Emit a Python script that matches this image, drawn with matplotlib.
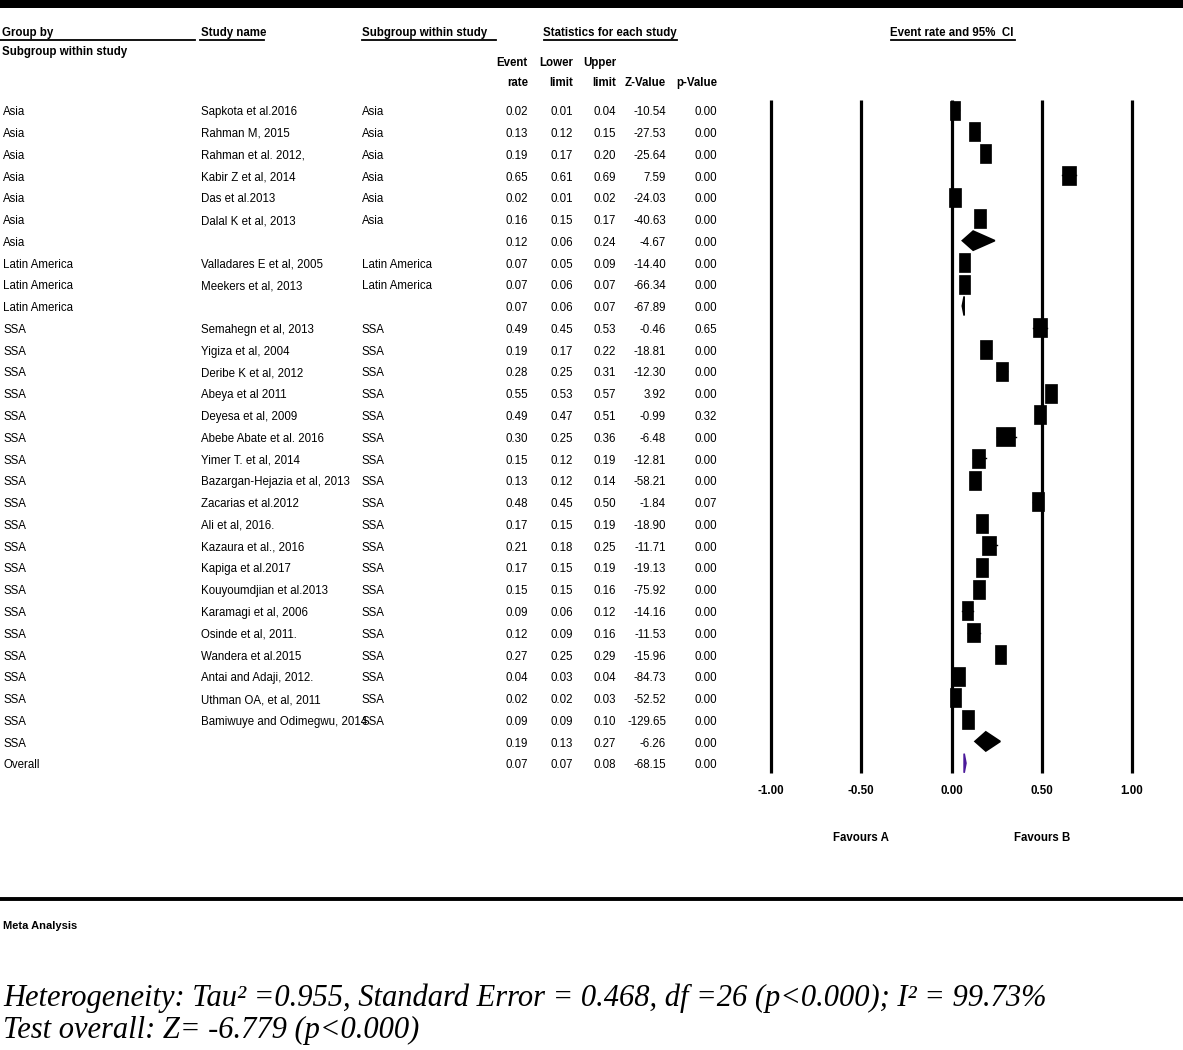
import matplotlib
matplotlib.use("Agg")
import matplotlib.pyplot as plt
import matplotlib.transforms as mtransforms
from matplotlib.patches import Rectangle, Polygon
from matplotlib.lines import Line2D

# ---------------- data ----------------
groups = ["Asia"] * 7 + ["Latin America"] * 3 + ["SSA"] * 20 + ["Overall"]
studies = [
    "Sapkota et al.2016", "Rahman M, 2015", "Rahman et al. 2012,", "Kabir Z et al, 2014",
    "Das et al.2013", "Dalal K et al, 2013", "",
    "Valladares E et al, 2005", "Meekers et al, 2013", "",
    "Semahegn et al, 2013", "Yigiza et al, 2004", "Deribe K et al, 2012", "Abeya et al 2011",
    "Deyesa et al, 2009", "Abebe Abate et al. 2016", "Yimer T. et al, 2014",
    "Bazargan-Hejazia et al, 2013", "Zacarias et al.2012", "Ali et al, 2016.",
    "Kazaura et al., 2016", "Kapiga et al.2017", "Kouyoumdjian et al.2013",
    "Karamagi et al, 2006", "Osinde et al, 2011.", "Wandera et al.2015",
    "Antai and Adaji, 2012.", "Uthman OA, et al, 2011", "Bamiwuye and Odimegwu, 2014", "",
    "",
]
subgroups = ["Asia"] * 6 + [""] + ["Latin America"] * 2 + [""] + ["SSA"] * 19 + ["", ""]
row_kind = (["study"] * 6 + ["summary"] + ["study"] * 2 + ["summary"]
            + ["study"] * 19 + ["summary"] + ["overall"])
event_rate = [0.02, 0.13, 0.19, 0.65, 0.02, 0.16, 0.12,
              0.07, 0.07, 0.07,
              0.49, 0.19, 0.28, 0.55, 0.49, 0.30, 0.15, 0.13, 0.48, 0.17,
              0.21, 0.17, 0.15, 0.09, 0.12, 0.27, 0.04, 0.02, 0.09, 0.19,
              0.07]
lower_limit = [0.01, 0.12, 0.17, 0.61, 0.01, 0.15, 0.06,
               0.05, 0.06, 0.06,
               0.45, 0.17, 0.25, 0.53, 0.47, 0.25, 0.12, 0.12, 0.45, 0.15,
               0.18, 0.15, 0.15, 0.06, 0.09, 0.25, 0.03, 0.02, 0.09, 0.13,
               0.07]
upper_limit = [0.04, 0.15, 0.20, 0.69, 0.02, 0.17, 0.24,
               0.09, 0.07, 0.07,
               0.53, 0.22, 0.31, 0.57, 0.51, 0.36, 0.19, 0.14, 0.50, 0.19,
               0.25, 0.19, 0.16, 0.12, 0.16, 0.29, 0.04, 0.03, 0.10, 0.27,
               0.08]
z_value = [-10.54, -27.53, -25.64, 7.59, -24.03, -40.63, -4.67,
           -14.40, -66.34, -67.89,
           -0.46, -18.81, -12.30, 3.92, -0.99, -6.48, -12.81, -58.21, -1.84, -18.90,
           -11.71, -19.13, -75.92, -14.16, -11.53, -15.96, -84.73, -52.52, -129.65, -6.26,
           -68.15]
p_value = [0.00] * 10 + [0.65, 0.00, 0.00, 0.00, 0.32, 0.00, 0.00, 0.00, 0.07] + [0.00] * 12
# relative study weights (drive the box size)
rel_weight = [10, 11, 11, 14, 12, 12, 0,
              11, 11, 0,
              14, 12, 12, 12, 12, 19, 13, 12, 12, 12,
              14, 12, 12, 11, 13, 11, 12, 11, 12, 0,
              0]
tick_values = [-1.0, -0.5, 0.0, 0.5, 1.0]
tick_labels = ["-1.00", "-0.50", "0.00", "0.50", "1.00"]

# ---------------- figure ----------------
W, H = 1183, 1050
fig = plt.figure(figsize=(W / 100, H / 100), dpi=100)
fig.patch.set_facecolor("white")
PX = mtransforms.Affine2D().scale(1 / W, -1 / H).translate(0, 1) + fig.transFigure

SANS = ["Liberation Sans", "DejaVu Sans"]
SERIF = ["Liberation Serif", "DejaVu Serif"]
FS = 8.3

# forest axes: x=-1 at 771px, x=1 at 1132px; rows 1..31
row_top, row_bot = 0.54, 31.45
ax = fig.add_axes([771 / W, 1 - 773 / H, (1132 - 771) / W, (773 - 100) / H])
ax.set_xlim(-1, 1)
ax.set_ylim(row_bot, row_top)
for s in ax.spines.values():
    s.set_visible(False)
ax.set_yticks([])
ax.set_xticks(tick_values)
ax.set_xticklabels(tick_labels, family=SANS, fontsize=FS, fontweight="bold")
ax.tick_params(axis="x", length=0, pad=9)
ax.vlines(tick_values, row_top, row_bot, colors="black", linewidths=2.3, clip_on=False)

px_per_x = (1132 - 771) / 2.0
px_per_row = 21.77
n = len(event_rate)
rows = list(range(1, n + 1))
for i in range(n):
    y = rows[i]
    est, lo, hi = event_rate[i], lower_limit[i], upper_limit[i]
    if row_kind[i] == "study":
        ax.plot([lo, hi], [y, y], color="black", lw=1, clip_on=False)
        bw = rel_weight[i] / px_per_x
        bh = 19 / px_per_row
        ax.add_patch(Rectangle((est - bw / 2, y - bh / 2), bw, bh,
                               facecolor="black", edgecolor="black", lw=0.5, clip_on=False))
    else:
        col = "#4b1a9a" if row_kind[i] == "overall" else "black"
        hh = 0.44
        ax.add_patch(Polygon([(lo, y), (est, y - hh), (hi, y), (est, y + hh)],
                             closed=True, facecolor=col, edgecolor=col, lw=1.2, clip_on=False))

# ---------------- table text ----------------
TT = mtransforms.blended_transform_factory(fig.transFigure, ax.transData)
col_x = {"group": 3, "study": 201, "sub": 362}
num_x = [528, 573, 616, 666, 717]
for i in range(n):
    y = rows[i] + 0.1
    kw = dict(transform=TT, family=SANS, fontsize=FS, va="center")
    fig.text(col_x["group"] / W, y, groups[i], ha="left", **kw)
    if studies[i]:
        fig.text(col_x["study"] / W, y, studies[i], ha="left", **kw)
    if subgroups[i]:
        fig.text(col_x["sub"] / W, y, subgroups[i], ha="left", **kw)
    vals = [event_rate[i], lower_limit[i], upper_limit[i], z_value[i], p_value[i]]
    for xv, v in zip(num_x, vals):
        fig.text(xv / W, y, f"{v:.2f}", ha="right", **kw)

# ---------------- headers ----------------
def ptxt(x, y, s, ha="left", **kw):
    kw.setdefault("family", SANS)
    kw.setdefault("fontsize", FS)
    kw.setdefault("fontweight", "bold")
    fig.text(x, y, s, ha=ha, va="center", transform=PX, **kw)

def uline(x0, x1, y, lw=1.3):
    fig.add_artist(Line2D([x0, x1], [y, y], transform=PX, color="black", lw=lw))

fig.add_artist(Rectangle((0, 0), W, 8, transform=PX, facecolor="black", edgecolor="none"))
ptxt(2, 33, "Group by")
uline(0, 195, 40)
ptxt(2, 52, "Subgroup within study")
ptxt(201, 33, "Study name")
uline(200, 264, 40)
ptxt(362, 33, "Subgroup within study")
uline(362, 496, 40)
ptxt(610, 33, "Statistics for each study", ha="center")
uline(544, 677, 40)
ptxt(952, 33, "Event rate and 95%  CI", ha="center")
uline(891, 1015, 40)
for xv, (l1, l2) in zip(num_x, [("Event", "rate"), ("Lower", "limit"), ("Upper", "limit"),
                                ("", "Z-Value"), ("", "p-Value")]):
    if l1:
        ptxt(xv, 63, l1, ha="right")
    ptxt(xv, 83, l2, ha="right")

# favours labels
FB = mtransforms.blended_transform_factory(ax.transData, fig.transFigure)
fig.text(-0.5, 1 - 838 / H, "Favours A", transform=FB, ha="center", va="center",
         family=SANS, fontsize=FS, fontweight="bold")
fig.text(0.5, 1 - 838 / H, "Favours B", transform=FB, ha="center", va="center",
         family=SANS, fontsize=FS, fontweight="bold")

# ---------------- footer ----------------
uline(0, W, 899, lw=2.8)
ptxt(3, 926, "Meta Analysis", fontsize=8)
fig.text(3, 998, "Heterogeneity: Tau² =0.955, Standard Error = 0.468, df =26 (p<0.000); I² = 99.73%",
         transform=PX, ha="left", va="center", family=SERIF, style="italic", fontsize=22)
fig.text(3, 1030, "Test overall: Z= -6.779 (p<0.000)",
         transform=PX, ha="left", va="center", family=SERIF, style="italic", fontsize=22)

fig.savefig("out.png", dpi=100, facecolor="white")
